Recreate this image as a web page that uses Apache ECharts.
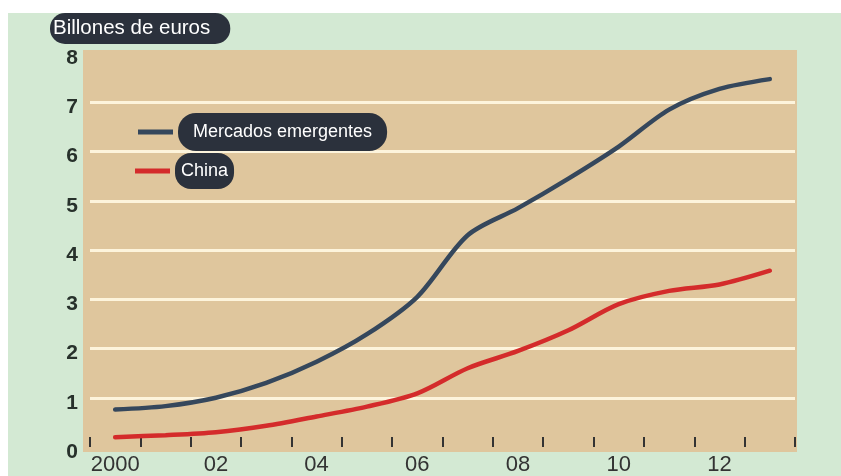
<!DOCTYPE html>
<html>
<head>
<meta charset="utf-8">
<script src="https://cdn.jsdelivr.net/npm/echarts@6/dist/echarts.min.js"></script>
<style>
html,body{margin:0;padding:0;background:#fff;}
#chart{width:841px;height:476px;}
</style>
</head>
<body>
<div id="chart"></div>
<script>
var categories = ['2000','2001','2002','2003','2004','2005','2006','2007','2008','2009','2010','2011','2012','2013'];
var tickLabels = {'2000':'2000','2002':'02','2004':'04','2006':'06','2008':'08','2010':'10','2012':'12'};
var emergentes = [0.76,0.83,1.0,1.3,1.73,2.29,3.05,4.3,4.85,5.45,6.1,6.85,7.27,7.47];
var china = [0.2,0.24,0.3,0.43,0.62,0.82,1.09,1.6,1.95,2.37,2.9,3.17,3.3,3.58];
var yTitle = 'Billones de euros';
var nameEm = 'Mercados emergentes';
var nameCh = 'China';

var cream = '#fdf4dc';
var chart = echarts.init(document.getElementById('chart'));
chart.setOption({
  animation: false,
  backgroundColor: '#ffffff',
  graphic: [
    {type:'rect', z:-10, silent:true, shape:{x:8,y:13,width:833,height:463}, style:{fill:'#d3e9d3'}},
    {type:'rect', z:-9, silent:true, shape:{x:83,y:50,width:714,height:402}, style:{fill:'#dfc69d'}},
    {type:'text', z:10, left:50, top:13,
      style:{text:yTitle, fill:'#ffffff', font:'20.5px "Liberation Sans", Arial, sans-serif',
        backgroundColor:'#2b313c', borderRadius:15, padding:[5,20,5,3]}}
  ],
  legend: [
    {data:[{name:nameEm, icon:'rect', textStyle:{padding:[10,15,10,15]}}], left:138, top:113, padding:0, orient:'vertical',
      itemWidth:35, itemHeight:5, selectedMode:false,
      textStyle:{color:'#fff', fontSize:18, fontFamily:'Liberation Sans, Arial, sans-serif', backgroundColor:'#2b313c', borderRadius:18}},
    {data:[{name:nameCh, icon:'rect', textStyle:{padding:[9,6,9,6]}}], left:135, top:153, padding:0, orient:'vertical',
      itemWidth:35, itemHeight:5, selectedMode:false,
      textStyle:{color:'#fff', fontSize:18, fontFamily:'Liberation Sans, Arial, sans-serif', backgroundColor:'#2b313c', borderRadius:16}}
  ],
  grid: {left:90, right:46, top:53, bottom:25, containLabel:false},
  xAxis: {
    type:'category', data:categories, boundaryGap:true,
    axisLine:{show:false},
    axisTick:{show:true, inside:true, length:10, alignWithLabel:false, interval:0, lineStyle:{color:'#333', width:2}},
    axisLabel:{interval:0, margin:7, color:'#333', fontSize:22, fontFamily:'Liberation Sans, Arial, sans-serif',
      formatter:function(v){return tickLabels[v] || '';}},
    splitLine:{show:false}
  },
  yAxis: {
    type:'value', min:0, max:8, interval:1,
    axisLine:{show:false}, axisTick:{show:false},
    axisLabel:{margin:12, formatter:function(v){return '{a|' + v + '}';},
      rich:{a:{color:'#27312b', fontSize:21, fontWeight:'bold', fontFamily:'Liberation Sans, Arial, sans-serif', lineHeight:21, padding:[10,0,0,0]}}},
    splitLine:{show:true, lineStyle:{color:['transparent',cream,cream,cream,cream,cream,cream,cream,'transparent'], width:3}}
  },
  series: [
    {name:nameEm, type:'line', data:emergentes, smooth:0.3, showSymbol:false,
      lineStyle:{color:'#35475c', width:4.5, cap:'round'}, itemStyle:{color:'#35475c'}},
    {name:nameCh, type:'line', data:china, smooth:0.3, showSymbol:false,
      lineStyle:{color:'#d42b2b', width:4.5, cap:'round'}, itemStyle:{color:'#d42b2b'}}
  ]
});
</script>
</body>
</html>
